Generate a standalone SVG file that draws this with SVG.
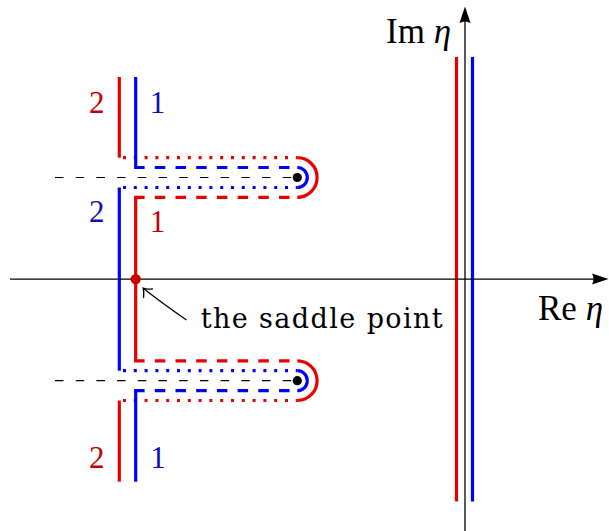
<svg xmlns="http://www.w3.org/2000/svg" width="609" height="531" viewBox="0 0 609 531">
<style>
.c{fill:none;stroke-width:3.2;stroke-linecap:butt;stroke-linejoin:miter}
.r{stroke:#e60000}
.b{stroke:#0000ff}
.dot{stroke-dasharray:3 7.8}
.dash{stroke-dasharray:10.5 10.2}
.cut{fill:none;stroke:#000;stroke-width:1.2;stroke-dasharray:8.5 12.2}
.ax{fill:none;stroke:#000;stroke-width:1.3}
.t{font-family:"Liberation Serif","DejaVu Serif",serif}
.lr{fill:#c00000;font-size:31px;text-anchor:middle}
.lb{fill:#1010b0;font-size:31px;text-anchor:middle}
</style>
<rect width="609" height="531" fill="#fff"/>
<g id="branch-cuts">
<path class="cut" d="M55,177.5 H297.3"/>
<path class="cut" d="M55,380.7 H297.3"/>
</g>
<g id="connectors">
<g id="contour-red">
<path class="c r" d="M119.3,77 V157.7"/>
<path class="c r dot" d="M123,157.7 H297.3"/>
<path class="c r" d="M297.3,157.7 A19.8,19.8 0 0 1 297.3,197.3"/>
<path class="c r dash" d="M134.1,197.3 H297.3"/>
<path class="c r" d="M135.7,197.3 V360.9"/>
<path class="c r dash" d="M134.1,360.9 H297.3"/>
<path class="c r" d="M297.3,360.9 A19.8,19.8 0 0 1 297.3,400.5"/>
<path class="c r dot" d="M123,400.5 H297.3"/>
<path class="c r" d="M119.3,400.5 V481.7"/>
<path class="c r" d="M456.5,57 V501.5"/>
</g>
<g id="contour-blue">
<path class="c b" d="M135.7,77 V167.5"/>
<path class="c b dash" d="M134.1,167.5 H297.3"/>
<path class="c b" d="M297.3,167.5 A10,10 0 0 1 297.3,187.5"/>
<path class="c b dot" d="M123,187.5 H297.3"/>
<path class="c b" d="M119.3,187.5 V370.7"/>
<path class="c b dot" d="M123,370.7 H297.3"/>
<path class="c b" d="M297.3,370.7 A10,10 0 0 1 297.3,390.7"/>
<path class="c b dash" d="M134.1,390.7 H297.3"/>
<path class="c b" d="M135.7,390.7 V481.7"/>
<path class="c b" d="M472.5,57 V501.5"/>
</g>
<g id="axes">
<path class="ax" d="M10,279.1 H595"/>
<path d="M608.5,279.1 L592,273.6 Q595,279.1 592,284.6 Z" fill="#000"/>
<path class="ax" d="M465,531 V21"/>
<path d="M465,6.5 L459.5,23 Q465,20 470.5,23 Z" fill="#000"/>
</g>
<g id="saddle-arrow">
<path fill="none" stroke="#000" stroke-width="1.3" d="M186.5,320 Q162,303 143.2,288.2"/>
<path fill="none" stroke="#000" stroke-width="1.3" stroke-linecap="round" d="M143.6,297.5 Q144.2,291.5 143.2,288.2 Q147,289.6 152.5,288.8"/>
</g>
</g>
<g id="branch-point-upper"><circle cx="297.3" cy="177.5" r="4.6" fill="#000"/></g>
<g id="branch-point-lower"><circle cx="297.3" cy="380.7" r="4.6" fill="#000"/></g>
<g id="saddle-point"><circle cx="135.7" cy="279.1" r="5.2" fill="#cc0000"/></g>
<g id="labels">
<text class="t lr" x="96.8" y="113.3">2</text>
<text class="t lb" x="157.5" y="113.3">1</text>
<text class="t lb" x="96.8" y="222.3">2</text>
<text class="t lr" x="157.5" y="232.3">1</text>
<text class="t lr" x="96.8" y="467.5">2</text>
<text class="t lb" x="158" y="467.5">1</text>
<text x="200.7" y="328.3" font-family="'DejaVu Serif',serif" font-size="27" textLength="242" lengthAdjust="spacing" fill="#000">the saddle point</text>
<text class="t" x="386" y="43.3" font-size="35" fill="#000">Im <tspan font-style="italic">η</tspan></text>
<text class="t" x="538" y="320" font-size="35" fill="#000">Re <tspan font-style="italic">η</tspan></text>
</g>
</svg>
